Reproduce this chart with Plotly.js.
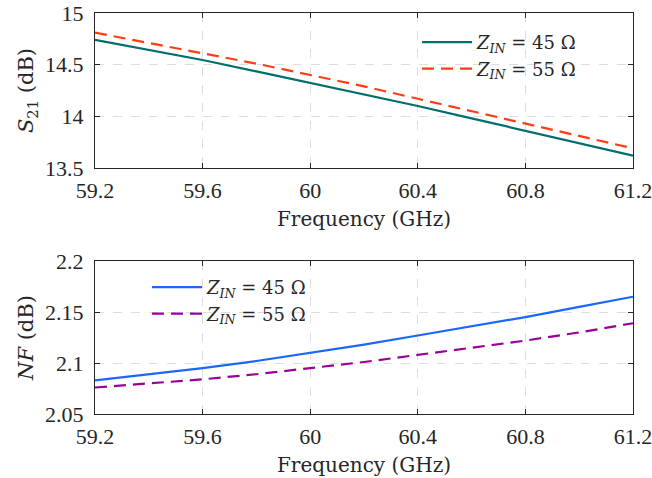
<!DOCTYPE html>
<html><head><meta charset="utf-8">
<script src="https://cdn.plot.ly/plotly-3.0.1.min.js"></script>
<style>html,body{margin:0;padding:0;background:#fff}#c{width:652px;height:478px}</style>
</head><body><div id="c"></div>
<script>
const freq = [59.2, 59.4, 59.6, 59.8, 60.0, 60.2, 60.4, 60.6, 60.8, 61.0, 61.2];
const s21_45 = [14.74, 14.645, 14.545, 14.435, 14.325, 14.215, 14.10, 13.98, 13.86, 13.74, 13.62];
const s21_55 = [14.81, 14.71, 14.61, 14.51, 14.40, 14.29, 14.17, 14.05, 13.93, 13.81, 13.69];
const nf_45 = [2.083, 2.089, 2.095, 2.102, 2.110, 2.118, 2.127, 2.136, 2.145, 2.155, 2.165];
const nf_55 = [2.076, 2.080, 2.084, 2.089, 2.095, 2.101, 2.108, 2.115, 2.122, 2.130, 2.139];
const xTicks = [59.2, 59.6, 60, 60.4, 60.8, 61.2];
const s21Ticks = [13.5, 14, 14.5, 15];
const nfTicks = [2.05, 2.1, 2.15, 2.2];
const name45 = '<i>Z</i><sub><i>IN</i></sub> = 45 Ω';
const name55 = '<i>Z</i><sub><i>IN</i></sub> = 55 Ω';

const TF = 'Liberation Serif, serif';
const F = 'DejaVu Serif, serif';
const tickFont = {family: TF, size: 22, color: '#262626'};
const lineC = '#262626';

function xa(anchor, ticks) {
  return {
    anchor: anchor, range: [59.2, 61.2], tickvals: ticks, ticktext: ticks.map(String),
    showline: true, linecolor: lineC, linewidth: 1, mirror: 'ticks',
    ticks: 'inside', ticklen: 5, tickcolor: lineC, tickfont: tickFont, ticklabelstandoff: 3,
    ticklabeloverflow: 'allow',
    showgrid: true, gridcolor: '#dedede', griddash: 'dash', gridwidth: 1,
    zeroline: false,
    title: {text: 'Frequency (GHz)', font: {family: F, size: 20, color: '#262626'}, standoff: 9}
  };
}
function ya(anchor, domain, range, ticks, title) {
  return {
    anchor: anchor, domain: domain, range: range, tickvals: ticks, ticktext: ticks.map(String),
    showline: true, linecolor: lineC, linewidth: 1, mirror: 'ticks',
    ticks: 'inside', ticklen: 5, tickcolor: lineC, tickfont: tickFont, ticklabelstandoff: 6,
    ticklabeloverflow: 'allow',
    showgrid: true, gridcolor: '#dedede', griddash: 'dash', gridwidth: 1,
    zeroline: false,
    title: {text: title, font: {family: F, size: 21, color: '#262626'}, standoff: 5}
  };
}

const traces = [
  {x: freq, y: s21_45, xaxis: 'x', yaxis: 'y', name: name45, mode: 'lines',
   line: {color: '#006e6b', width: 2.2}, legend: 'legend'},
  {x: freq, y: s21_55, xaxis: 'x', yaxis: 'y', name: name55, mode: 'lines',
   line: {color: '#ff3d14', width: 2.2, dash: '12px,7px'}, legend: 'legend'},
  {x: freq, y: nf_45, xaxis: 'x2', yaxis: 'y2', name: name45, mode: 'lines',
   line: {color: '#1a66ff', width: 2.2}, legend: 'legend2'},
  {x: freq, y: nf_55, xaxis: 'x2', yaxis: 'y2', name: name55, mode: 'lines',
   line: {color: '#990099', width: 2.2, dash: '12px,7px'}, legend: 'legend2'}
];

const legFont = {family: F, size: 18, color: '#262626'};
const layout = {
  width: 652, height: 478,
  margin: {l: 95, r: 19, t: 13, b: 64},
  paper_bgcolor: '#fff', plot_bgcolor: '#fff',
  showlegend: true,
  xaxis: xa('y', xTicks),
  yaxis: ya('x', [0.6135, 1], [13.5, 15], s21Ticks, '<i>S</i><sub>21</sub> (dB)'),
  xaxis2: xa('y2', xTicks),
  yaxis2: ya('x2', [0, 0.3815], [2.05, 2.2], nfTicks, '<i>NF</i> (dB)'),
  legend: {x: 0.5985, y: 0.9726, xanchor: 'left', yanchor: 'top', bgcolor: 'rgba(0,0,0,0)',
           font: legFont, tracegroupgap: 0, itemwidth: 50},
  legend2: {x: 0.0967, y: 0.3616, xanchor: 'left', yanchor: 'top', bgcolor: 'rgba(0,0,0,0)',
            font: legFont, tracegroupgap: 0, itemwidth: 50}
};
Plotly.newPlot('c', traces, layout, {displayModeBar: false, staticPlot: true});
</script></body></html>
